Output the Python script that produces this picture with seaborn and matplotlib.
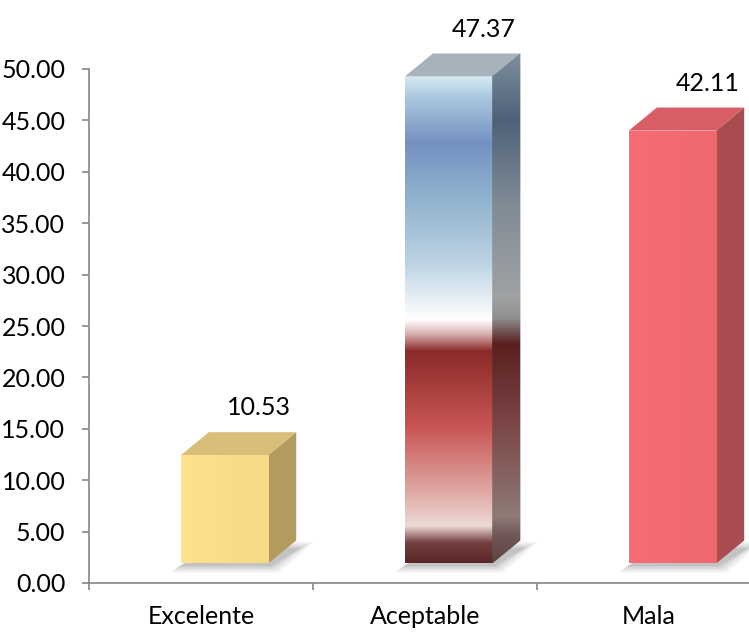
import numpy as np
import matplotlib
matplotlib.use("Agg")
import matplotlib.pyplot as plt
import seaborn as sns
from matplotlib.patches import Polygon
from matplotlib.colors import LinearSegmentedColormap

# ---- data ----
categories = ["Excelente", "Aceptable", "Mala"]
values = [10.53, 47.37, 42.11]
value_labels = ["10.53", "47.37", "42.11"]
y_ticks = [0, 5, 10, 15, 20, 25, 30, 35, 40, 45, 50]
y_tick_labels = ["0.00", "5.00", "10.00", "15.00", "20.00", "25.00",
                 "30.00", "35.00", "40.00", "45.00", "50.00"]

# ---- styles ----
front_colors = ["#FADD8A", "#FFFFFF", "#F26A72"]
top_colors = ["#D8BE79", "#A7B3BC", "#D75E64"]
side_colors = ["#B39A5E", "#6A7C8C", "#A94C52"]

acept_front = LinearSegmentedColormap.from_list("af", [
    (0.00, "#5A2828"), (0.04, "#744040"), (0.075, "#EEDAD6"), (0.145, "#DFA8A4"),
    (0.28, "#C85553"), (0.435, "#8A2A28"), (0.47, "#D8B0B0"), (0.50, "#FFFFFF"),
    (0.62, "#BBD2E3"), (0.76, "#8DB0CC"), (0.865, "#7591C2"), (0.955, "#A9C6DE"),
    (1.00, "#D5E8F2")])
acept_side = LinearSegmentedColormap.from_list("as", [
    (0.00, "#5E4442"), (0.05, "#6E5654"), (0.09, "#8E7A76"), (0.28, "#7A4444"),
    (0.43, "#5A1F1F"), (0.48, "#8E8E8E"), (0.52, "#A0A2A4"), (0.70, "#818C96"),
    (0.87, "#4E6178"), (1.00, "#7E8E9C")])

sns.set_theme(style="white")
plt.rcParams['font.family'] = ['Lato', 'DejaVu Sans']
FS = 18

W, H = 749, 633
fig = plt.figure(figsize=(W / 100, H / 100), dpi=100)
fig.patch.set_facecolor("white")
# axes: x from px 89 to 749, y=0 at px 583, 10.28 px per unit
ymax = 56
px_per_unit = 10.28
ax_h = ymax * px_per_unit
ax = fig.add_axes([89 / W, (H - 583) / H, (W - 89) / W, ax_h / H])

sns.barplot(x=categories, y=values, hue=categories, palette=front_colors,
            legend=False, width=0.39, ax=ax, saturation=1, zorder=3)

cat_px = 224.0
xmin = -0.5
xmax = xmin + (W - 89) / cat_px
ax.set_xlim(xmin, xmax)
ax.set_ylim(0, ymax)

BASE = 1.9      # 3D floor lift
SHIFT = 0.105   # front face shift right
DX = 0.125      # depth in x (data units)
DY = 2.24       # depth in y (data units)

bars = list(ax.patches)
for i, p in enumerate(bars):
    p.set_x(p.get_x() + SHIFT)
    p.set_y(BASE)
    p.set_linewidth(0)
    p.set_clip_on(False)
    x0, x1 = p.get_x(), p.get_x() + p.get_width()
    y0, y1 = p.get_y(), p.get_y() + p.get_height()

    # soft shadow on floor
    for k, a in enumerate([0.06, 0.08, 0.10, 0.14]):
        ex = 0.05 - k * 0.012
        ey = 0.9 - k * 0.2
        shadow = Polygon([(x0 - ex, y0 - ey), (x1 + ex, y0 - ey),
                          (x1 + DX + ex * 1.6, y0 + DY * 0.55 + ey),
                          (x0 + DX + ex, y0 + DY * 0.55 + ey)],
                         closed=True, facecolor="#505050", alpha=a,
                         linewidth=0, zorder=1)
        ax.add_patch(shadow)

    side = Polygon([(x1, y0), (x1 + DX, y0 + DY), (x1 + DX, y1 + DY), (x1, y1)],
                   closed=True, facecolor=side_colors[i], linewidth=0, zorder=2)
    top = Polygon([(x0, y1), (x1, y1), (x1 + DX, y1 + DY), (x0 + DX, y1 + DY)],
                  closed=True, facecolor=top_colors[i], linewidth=0, zorder=2)
    ax.add_patch(side)
    ax.add_patch(top)

    if i == 1:
        grad = np.linspace(0, 1, 512).reshape(-1, 1)
        im = ax.imshow(grad, cmap=acept_front, extent=(x0, x1, y0, y1),
                       origin="lower", aspect="auto", zorder=4,
                       interpolation="bilinear")
        im.set_clip_path(p)
        im2 = ax.imshow(grad, cmap=acept_side, extent=(x1, x1 + DX, y0, y1 + DY),
                        origin="lower", aspect="auto", zorder=4,
                        interpolation="bilinear")
        im2.set_clip_path(side)
    else:
        grad_h = np.linspace(0, 1, 256).reshape(1, -1)
        base = np.array(matplotlib.colors.to_rgb(front_colors[i]))
        cm = LinearSegmentedColormap.from_list(
            "f%d" % i, [np.clip(base * 1.02, 0, 1), base, base * 0.985])
        im = ax.imshow(grad_h, cmap=cm, extent=(x0, x1, y0, y1),
                       origin="lower", aspect="auto", zorder=4,
                       interpolation="bilinear")
        im.set_clip_path(p)

    ax.text(x0 + 0.35, values[i] + 6.5, value_labels[i], ha="center",
            va="center", fontsize=FS, color="black", zorder=6)

ax.set_xlim(xmin, xmax)
ax.set_ylim(0, ymax)

# axes styling
for s in ["top", "right"]:
    ax.spines[s].set_visible(False)
for s in ["left", "bottom"]:
    ax.spines[s].set_color("#868686")
    ax.spines[s].set_linewidth(1.2)
ax.spines["left"].set_bounds(0, 50)

ax.set_yticks(y_ticks)
ax.set_yticklabels(y_tick_labels, fontsize=FS)
ax.tick_params(axis="y", direction="out", length=5, width=1.2,
               color="#868686", pad=12, left=True, labelcolor="black")

ax.set_xticks(range(len(categories)))
ax.set_xticklabels(categories, fontsize=FS)
ax.tick_params(axis="x", which="major", length=0, pad=16, labelcolor="black")
ax.set_xticks([-0.5, 0.5, 1.5], minor=True)
ax.tick_params(axis="x", which="minor", direction="out", length=5, width=1.2,
               color="#868686", bottom=True)
ax.set_xlabel("")
ax.set_ylabel("")
ax.grid(False)

fig.savefig("out.png", dpi=100, facecolor="white")
